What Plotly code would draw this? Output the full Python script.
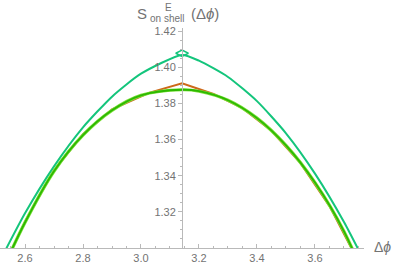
import math
import plotly.graph_objects as go

# data
x_grid = [2.50, 2.60, 2.70, 2.80, 2.90, 3.00, 3.1416, 3.20, 3.30, 3.40, 3.50, 3.60, 3.70, 3.80]
teal_y = [1.2887, 1.3192, 1.3452, 1.3668, 1.3838, 1.3965, 1.4069, 1.4037, 1.3947, 1.3813, 1.3635, 1.3412, 1.3144, 1.2832]
green_y = [1.2800, 1.3141, 1.3425, 1.3625, 1.3762, 1.3845, 1.3876, 1.3868, 1.3818, 1.3719, 1.3568, 1.3362, 1.3092, 1.2725]

orange_x = [2.50, 2.60, 2.70, 2.80, 2.90, 3.03, 3.1416, 3.25, 3.35, 3.45, 3.55, 3.65, 3.75, 3.80]
orange_y = [1.2805, 1.3146, 1.3430, 1.3630, 1.3767, 1.3860, 1.3912, 1.3853, 1.3774, 1.3649, 1.3470, 1.3232, 1.2924, 1.2730]

marker_x = [3.1416]
marker_y = [1.4078]

x_ticks = [2.6, 2.8, 3.0, 3.2, 3.4, 3.6]
x_tick_text = ["2.6", "2.8", "3.0", "3.2", "3.4", "3.6"]
y_ticks = [1.32, 1.34, 1.36, 1.38, 1.40, 1.42]
y_tick_text = ["1.32", "1.34", "1.36", "1.38", "1.40", "1.42"]

x_range = [2.5138, 3.769]
y_range = [1.30, 1.4218]

TEAL = "rgb(20,197,124)"
ORANGE = "rgb(205,105,25)"
GREEN = "rgb(45,185,0)"
LIGHT_GREEN = "rgb(125,225,60)"
AXIS = "rgb(185,185,185)"
LABEL = "rgb(115,115,115)"
FONT = "Liberation Sans"

fig = go.Figure()
fig.add_trace(go.Scatter(x=x_grid, y=teal_y, mode="lines", line=dict(color=TEAL, width=2, shape="spline", smoothing=0.6), hoverinfo="skip"))
fig.add_trace(go.Scatter(x=orange_x, y=orange_y, mode="lines", line=dict(color=ORANGE, width=2), hoverinfo="skip"))
fig.add_trace(go.Scatter(x=x_grid, y=green_y, mode="lines", line=dict(color=LIGHT_GREEN, width=3.2, shape="spline"), hoverinfo="skip"))
fig.add_trace(go.Scatter(x=x_grid, y=green_y, mode="lines", line=dict(color=GREEN, width=1.8, shape="spline"), hoverinfo="skip"))
fig.add_trace(go.Scatter(x=marker_x, y=marker_y, mode="markers",
                         marker=dict(symbol="diamond-wide-open", size=9, color=TEAL, line=dict(width=1.5, color=TEAL)),
                         hoverinfo="skip"))

ypos = (math.pi - x_range[0]) / (x_range[1] - x_range[0])

fig.update_layout(
    width=399, height=267,
    margin=dict(l=0, r=35, t=28, b=19),
    paper_bgcolor="white", plot_bgcolor="white",
    showlegend=False,
    hovermode=False,
    font=dict(family=FONT, size=11, color=LABEL),
    xaxis=dict(range=x_range, showgrid=False, zeroline=False, showline=True, linecolor=AXIS, linewidth=1,
               tickvals=x_ticks, ticktext=x_tick_text, ticks="inside", ticklen=4, tickcolor=AXIS,
               minor=dict(dtick=0.05, tick0=2.5, ticks="inside", ticklen=2, tickcolor=AXIS),
               tickfont=dict(size=11, color=LABEL, family=FONT)),
    yaxis=dict(range=y_range, showgrid=False, zeroline=False, showline=True, linecolor=AXIS, linewidth=1,
               anchor="free", position=ypos,
               tickvals=y_ticks, ticktext=y_tick_text, ticks="outside", ticklen=4, tickcolor=AXIS,
               minor=dict(dtick=0.005, tick0=1.30, ticks="outside", ticklen=2, tickcolor=AXIS),
               tickfont=dict(size=11, color=LABEL, family=FONT)),
)

def px_x(p):
    return p / 364.0

def px_y(p):
    return (248.0 - p) / 220.0

fig.add_annotation(text="S", xref="paper", yref="paper", x=px_x(135), y=px_y(14), xanchor="left", yanchor="middle",
                   showarrow=False, font=dict(size=15, color=LABEL, family=FONT))
fig.add_annotation(text="E", xref="paper", yref="paper", x=px_x(163), y=px_y(7), xanchor="left", yanchor="middle",
                   showarrow=False, font=dict(size=10, color=LABEL, family=FONT))
fig.add_annotation(text="on shell", xref="paper", yref="paper", x=px_x(148), y=px_y(19), xanchor="left", yanchor="middle",
                   showarrow=False, font=dict(size=10, color=LABEL, family=FONT))
fig.add_annotation(text="(Δ<i>ϕ</i>)", xref="paper", yref="paper", x=px_x(189), y=px_y(13), xanchor="left", yanchor="middle",
                   showarrow=False, font=dict(size=15, color=LABEL, family=FONT))
fig.add_annotation(text="Δ<i>ϕ</i>", xref="paper", yref="paper", x=px_x(372), y=px_y(247), xanchor="left", yanchor="middle",
                   showarrow=False, font=dict(size=14, color=LABEL, family=FONT))

fig.write_html("out.html", config={"displayModeBar": False},
               post_script="document.body.style.margin='0';document.body.style.overflow='hidden';")
